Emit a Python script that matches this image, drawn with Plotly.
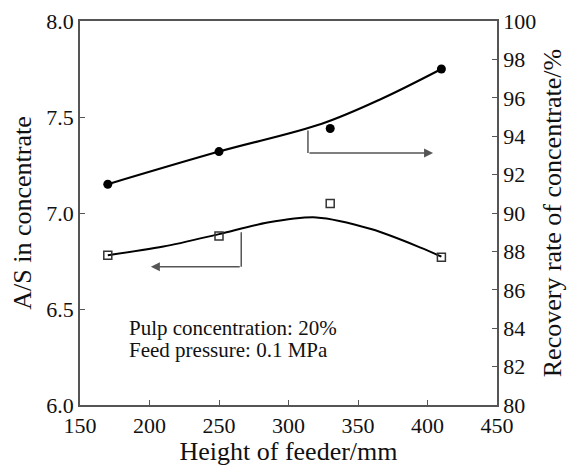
import plotly.graph_objects as go

# feeder height, mm
heights = [170, 250, 330, 410]
# A/S in concentrate (left axis, open squares)
as_ratio = [6.78, 6.88, 7.05, 6.77]
# recovery rate of concentrate, % (right axis, filled circles)
recovery = [91.5, 93.2, 94.4, 97.5]

# smoothed trend curves as drawn in the figure
as_curve_x = [170, 210, 250, 285, 320, 360, 395, 410]
as_curve_y = [6.78, 6.825, 6.89, 6.95, 6.977, 6.915, 6.82, 6.773]
rec_curve_x = [170, 250, 324, 367, 410]
rec_curve_y = [91.5, 93.2, 94.65, 95.95, 97.5]

font = dict(family="Liberation Serif", size=22, color="#111")
axis_col = "#555"

fig = go.Figure()
fig.add_trace(go.Scatter(x=as_curve_x, y=as_curve_y, mode="lines",
                         line=dict(color="black", width=2, shape="spline", smoothing=0.8), yaxis="y"))
fig.add_trace(go.Scatter(x=heights, y=as_ratio, mode="markers",
                         marker=dict(symbol="square-open", size=8, color="#333", line=dict(width=1.5)),
                         yaxis="y"))
fig.add_trace(go.Scatter(x=rec_curve_x, y=rec_curve_y, mode="lines",
                         line=dict(color="black", width=2, shape="spline"), yaxis="y2"))
fig.add_trace(go.Scatter(x=heights, y=recovery, mode="markers",
                         marker=dict(symbol="circle", size=9, color="black"), yaxis="y2"))

# arrows pointing to the matching axis
fig.add_shape(type="line", x0=314, x1=314, y0=94.3, y1=93.13, xref="x", yref="y2",
              line=dict(color=axis_col, width=1.5))
fig.add_annotation(x=404, y=93.13, ax=314, ay=93.13, xref="x", yref="y2", axref="x", ayref="y2",
                   showarrow=True, arrowhead=2, arrowsize=1.2, arrowwidth=1.5, arrowcolor=axis_col, text="")
fig.add_shape(type="line", x0=266, x1=266, y0=6.9, y1=6.72, xref="x", yref="y",
              line=dict(color=axis_col, width=1.5))
fig.add_annotation(x=201, y=6.72, ax=266, ay=6.72, xref="x", yref="y", axref="x", ayref="y",
                   showarrow=True, arrowhead=2, arrowsize=1.2, arrowwidth=1.5, arrowcolor=axis_col, text="")

note_font = dict(family="Liberation Serif", size=21, color="#111")
fig.add_annotation(x=184, y=6.40, xref="x", yref="y", text="Pulp concentration: 20%",
                   showarrow=False, xanchor="left", yanchor="middle", font=note_font)
fig.add_annotation(x=184, y=6.285, xref="x", yref="y", text="Feed pressure: 0.1 MPa",
                   showarrow=False, xanchor="left", yanchor="middle", font=note_font)

# page body has an 8px margin, so the figure is drawn 8px smaller and shifted
fig.update_layout(
    width=574, height=458,
    margin=dict(l=72, r=85, t=13, b=61),
    paper_bgcolor="white", plot_bgcolor="white",
    font=font, showlegend=False,
    xaxis=dict(range=[150, 450], dtick=50, tick0=150, ticks="inside", ticklen=5,
               tickcolor=axis_col, showline=True, linecolor=axis_col, linewidth=1.5,
               mirror=True, showgrid=False, zeroline=False, automargin=False,
               title=dict(text="Height of feeder/mm", standoff=6)),
    yaxis=dict(range=[6.0, 8.0], dtick=0.5, tick0=6.0, tickformat=".1f", ticks="inside",
               ticklen=5, tickcolor=axis_col, showline=True, linecolor=axis_col,
               linewidth=1.5, showgrid=False, zeroline=False, automargin=False,
               title=dict(text="A/S in concentrate", standoff=8)),
    yaxis2=dict(range=[80, 100], dtick=2, tick0=80, overlaying="y", side="right",
                ticks="inside", ticklen=5, tickcolor=axis_col, showline=True,
                linecolor=axis_col, linewidth=1.5, showgrid=False, zeroline=False,
                automargin=False,
                title=dict(text="Recovery rate of concentrate/%", standoff=8)),
)

fig.write_html("out.html")
